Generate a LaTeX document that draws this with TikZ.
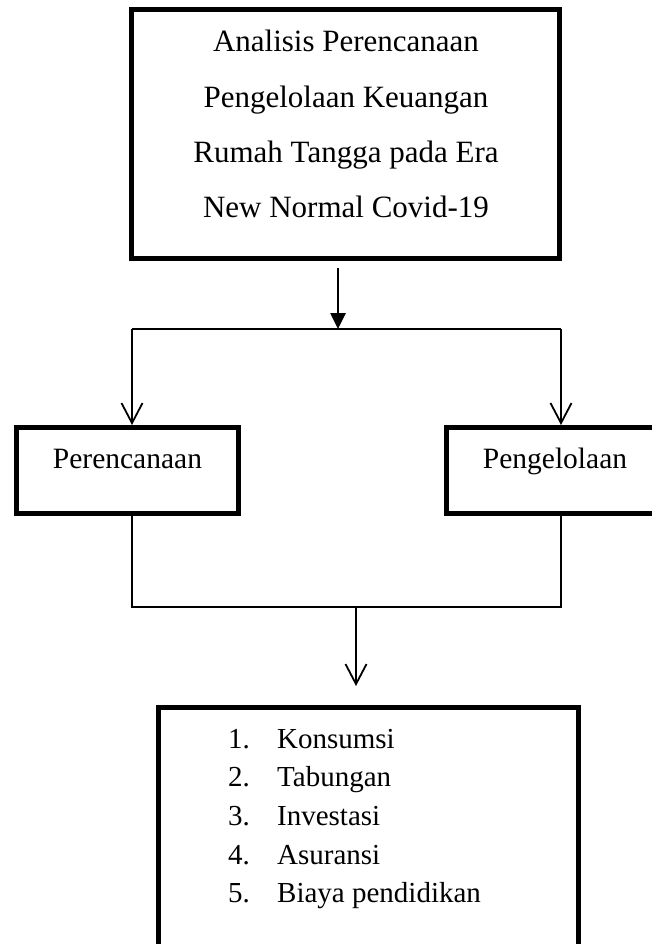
\documentclass[tikz,border=0pt]{standalone}
\usepackage{fontspec}
\setmainfont{Liberation Serif}
\usepackage{tikz}
\usetikzlibrary{calc,arrows.meta}

\begin{document}
\begin{tikzpicture}[x=1pt,y=-1pt,
    kotak/.style={draw,line width=5pt,inner sep=0pt},
    teks/.style={inner sep=0pt,anchor=base},
    garis/.style={line width=1.6pt},
    panahtebal/.style={line width=2.6pt,-{Triangle[length=16pt,width=15pt]}},
    panahtipis/.style={line width=1.6pt,-{Straight Barb[length=20pt,width=21pt,line width=1.8pt]}}]

    \useasboundingbox (0,0) rectangle (652,944);

    % Kotak-kotak
    \node (judul) [kotak,minimum width=428pt,minimum height=249pt] at (345.5,134) {};
    \node (rencana) [kotak,minimum width=222pt,minimum height=86pt] at (127.5,470.5) {};
    \node (kelola) [kotak,minimum width=222pt,minimum height=86pt] at (557.5,470.5) {};
    \node (daftar) [kotak,minimum width=420pt,minimum height=265pt] at (368.5,840) {};

    % Teks
    \node (judulteks) [teks,font={\fontsize{31}{55.3}\selectfont}] at (346,52)
        {\begin{tabular}[t]{@{}c@{}}
        Analisis Perencanaan \\
        Pengelolaan Keuangan \\
        Rumah Tangga pada Era \\
        New Normal Covid-19
        \end{tabular}};
    \node (rencanateks) [teks,font={\fontsize{29.5}{35}\selectfont}] at (127.5,468) {Perencanaan};
    \node (kelolateks) [teks,font={\fontsize{29.5}{35}\selectfont}] at (555,468) {Pengelolaan};
    \node (daftarteks) [teks,anchor=base west,font={\fontsize{29}{38.7}\selectfont}] at (228,748)
        {\begin{tabular}[t]{@{}l@{}}
        \makebox[49pt][l]{1.}Konsumsi \\
        \makebox[49pt][l]{2.}Tabungan \\
        \makebox[49pt][l]{3.}Investasi \\
        \makebox[49pt][l]{4.}Asuransi \\
        \makebox[49pt][l]{5.}Biaya pendidikan
        \end{tabular}};

    % Titik cabang
    \coordinate (kiriatas) at (132,329);
    \coordinate (kananatas) at (561,329);
    \coordinate (tengahatas) at (338,329);
    \coordinate (kiribawah) at (132,607);
    \coordinate (kananbawah) at (561,607);
    \coordinate (tengahbawah) at (356,607);

    \draw[panahtebal] ($(judul.south)+(-7.5,7)$) -- (tengahatas);
    \draw[garis] (kiriatas) -- (kananatas);
    \draw[panahtipis] (kiriatas) -- (kiriatas |- rencana.north);
    \draw[panahtipis] (kananatas) -- (kananatas |- kelola.north);

    \draw[garis] (kiriatas |- rencana.south) -- (kiribawah) -- (kananbawah) -- (kananatas |- kelola.south);
    \draw[panahtipis] (tengahbawah) -- ($(tengahbawah |- daftar.north)+(0,-19)$);

\end{tikzpicture}
\end{document}
